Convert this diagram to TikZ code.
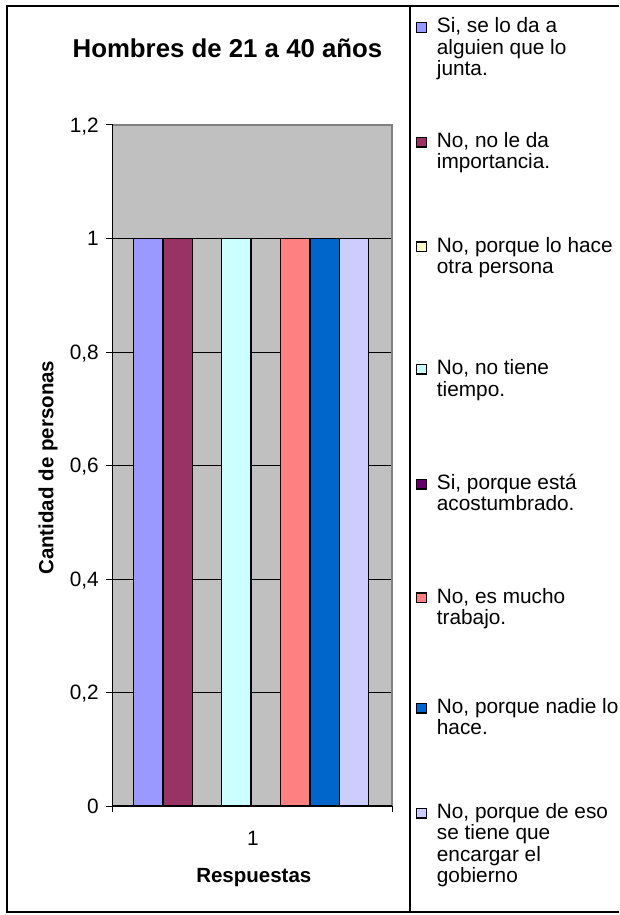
\documentclass[tikz,border=0pt]{standalone}
\usepackage{fontspec}
\setmainfont{Liberation Sans}
\definecolor{plotgray}{HTML}{C0C0C0}
\definecolor{bordergray}{HTML}{808080}
\definecolor{cA}{HTML}{9999FF}
\definecolor{cB}{HTML}{993366}
\definecolor{cC}{HTML}{FFFFCC}
\definecolor{cD}{HTML}{CCFFFF}
\definecolor{cE}{HTML}{660066}
\definecolor{cF}{HTML}{FF8080}
\definecolor{cG}{HTML}{0066CC}
\definecolor{cH}{HTML}{CCCCFF}
\begin{document}
\begin{tikzpicture}[x=1pt,y=-1pt,
  lbl/.style={inner sep=0pt, font=\fontsize{20.8}{21.5}\selectfont},
  blbl/.style={inner sep=0pt, font=\fontsize{20.5}{21.5}\selectfont\bfseries},
  ttl/.style={inner sep=0pt, font=\fontsize{25.8}{28}\selectfont\bfseries},
  barbox/.style={draw=black, line width=1.3pt},
  legsq/.style={draw=black, line width=1.3pt, minimum size=9.6pt, inner sep=0pt},
  legtxt/.style={lbl, anchor=base west},
  ticklbl/.style={lbl, anchor=base east},
  frame/.style={draw=black, line width=2pt},
]
\useasboundingbox (0,0) rectangle (619,915);

% outer frame (no right edge) and divider
\draw[frame] (619,6) -- (7,6) -- (7,912) -- (619,912);
\draw[black, line width=1.2pt] (410,6) -- (410,912);

% plot area
\fill[plotgray] (112.7,125) rectangle (392,806);
\foreach \v in {1,...,5}
  \draw[black, line width=0.8pt] (112.7,{806-\v*113.5}) -- (392,{806-\v*113.5});
\draw[bordergray, line width=1.3pt] (112.7,125) -- (392,125) -- (392,806);

% bars (value 1 each; series 3 and 5 have value 0)
\def\bw{29.4}
\foreach \i/\c in {0/cA,1/cB,3/cD,5/cF,6/cG,7/cH}
  \draw[barbox, fill=\c] ({133.5+\i*\bw},806) rectangle ({133.5+(\i+1)*\bw},238.5);

% axes
\draw[black, line width=1.2pt] (112.7,125) -- (112.7,806) -- (392,806);
\foreach \v in {0,...,6}
  \draw[black, line width=1pt] (106,{806-\v*113.5}) -- (112.7,{806-\v*113.5});
\draw[black, line width=1pt] (112.7,806) -- (112.7,812);
\draw[black, line width=1pt] (392,806) -- (392,812);

% tick labels
\node[ticklbl] (t0) at (99,{806+7.3}) {0};
\node[ticklbl] (t1) at (99,{806-113.5+7.3}) {0,2};
\node[ticklbl] (t2) at (99,{806-2*113.5+7.3}) {0,4};
\node[ticklbl] (t3) at (99,{806-3*113.5+7.3}) {0,6};
\node[ticklbl] (t4) at (99,{806-4*113.5+7.3}) {0,8};
\node[ticklbl] (t5) at (99,{806-5*113.5+7.3}) {1};
\node[ticklbl] (t6) at (99,{806-6*113.5+7.3}) {1,2};

\node[lbl, anchor=base] (cat1) at (253,845) {1};

% titles
\node[ttl, anchor=base] (title) at (227.5,57.7) {Hombres de 21 a 40 años};
\node[blbl, anchor=base] (xtitle) at (253.8,882.7) {Respuestas};
\node[blbl, anchor=base, rotate=90] (ytitle) at (53.3,467.7) {Cantidad de personas};

% legend
\node[legsq, fill=cA] (s1) at (421.5,{32.7-5.2}) {};
\node[legtxt] (l1) at (436.7,32.7) {\begin{tabular}[t]{@{}l@{}}Si, se lo da a\\alguien que lo\\junta.\end{tabular}};
\node[legsq, fill=cB] (s2) at (421.5,{147.3-5.2}) {};
\node[legtxt] (l2) at (436.7,147.3) {\begin{tabular}[t]{@{}l@{}}No, no le da\\importancia.\end{tabular}};
\node[legsq, fill=cC] (s3) at (421.5,{252-5.2}) {};
\node[legtxt] (l3) at (436.7,252) {\begin{tabular}[t]{@{}l@{}}No, porque lo hace\\otra persona\end{tabular}};
\node[legsq, fill=cD] (s4) at (421.5,{374.5-5.2}) {};
\node[legtxt] (l4) at (436.7,374.5) {\begin{tabular}[t]{@{}l@{}}No, no tiene\\tiempo.\end{tabular}};
\node[legsq, fill=cE] (s5) at (421.5,{489.3-5.2}) {};
\node[legtxt] (l5) at (436.7,489.3) {\begin{tabular}[t]{@{}l@{}}Si, porque está\\acostumbrado.\end{tabular}};
\node[legsq, fill=cF] (s6) at (421.5,{603-5.2}) {};
\node[legtxt] (l6) at (436.7,603) {\begin{tabular}[t]{@{}l@{}}No, es mucho\\trabajo.\end{tabular}};
\node[legsq, fill=cG] (s7) at (421.5,{713.3-5.2}) {};
\node[legtxt] (l7) at (436.7,713.3) {\begin{tabular}[t]{@{}l@{}}No, porque nadie lo\\hace.\end{tabular}};
\node[legsq, fill=cH] (s8) at (421.5,{818.3-5.2}) {};
\node[legtxt] (l8) at (436.7,818.3) {\begin{tabular}[t]{@{}l@{}}No, porque de eso\\se tiene que\\encargar el\\gobierno\end{tabular}};
\end{tikzpicture}
\end{document}
